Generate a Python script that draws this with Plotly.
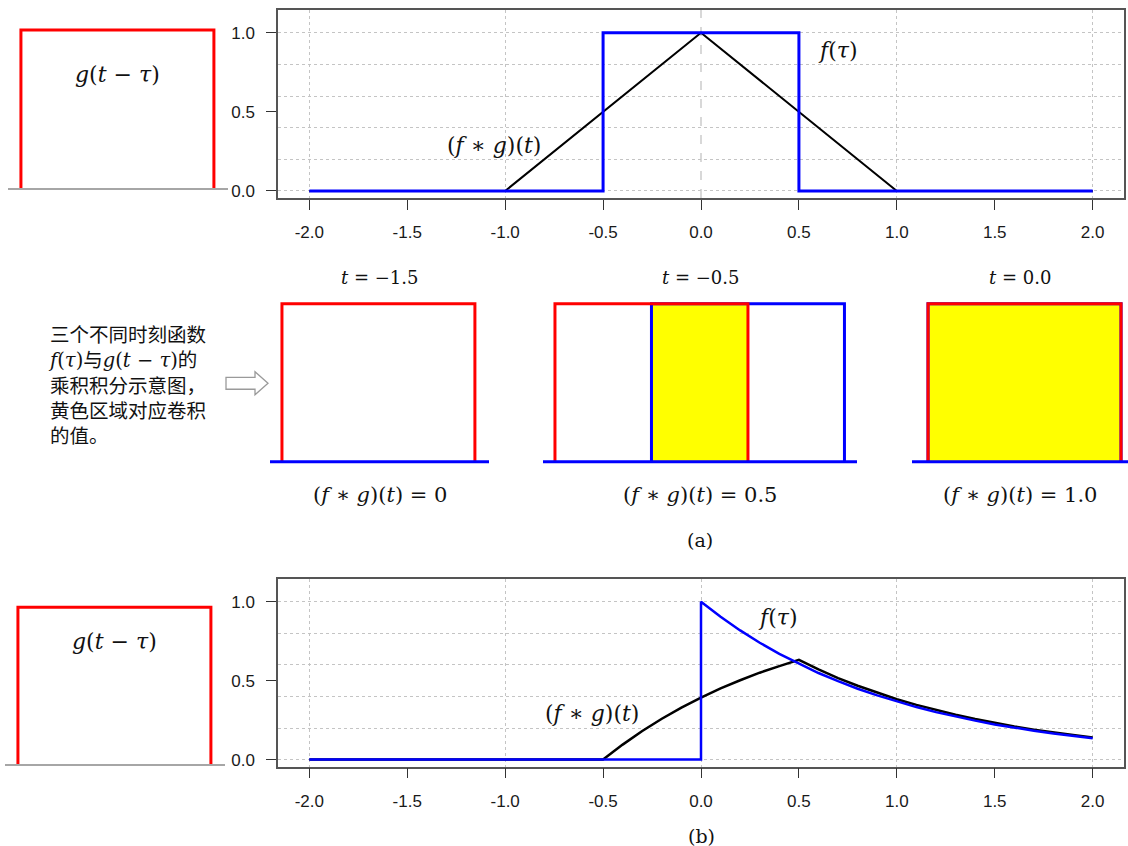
import plotly.graph_objects as go

# ---------------- data ----------------
# (a) rectangular pulse f(tau) and its convolution with the unit window g
rect_tau = [-2.0, -0.5, -0.5, 0.5, 0.5, 2.0]
rect_f = [0.0, 0.0, 1.0, 1.0, 0.0, 0.0]
tri_t = [-2.0, -1.0, 0.0, 1.0, 2.0]
tri_conv = [0.0, 0.0, 1.0, 0.0, 0.0]

# (b) one-sided decaying pulse f(tau) and its convolution with the unit window
exp_tau = [-2.0, 0.0, 0.0, 0.1, 0.2, 0.3, 0.4, 0.5, 0.6, 0.7, 0.8, 0.9, 1.0,
           1.1, 1.2, 1.3, 1.4, 1.5, 1.6, 1.7, 1.8, 1.9, 2.0]
exp_f = [0.0, 0.0, 1.00, 0.905, 0.819, 0.741, 0.670, 0.607, 0.549, 0.497, 0.449,
         0.407, 0.368, 0.333, 0.301, 0.273, 0.247, 0.223, 0.202, 0.183, 0.165,
         0.150, 0.135]
exp_t = [-2.0, -0.5, -0.4, -0.3, -0.2, -0.1, 0.0, 0.1, 0.2, 0.3, 0.4, 0.5, 0.6,
         0.7, 0.8, 0.9, 1.0, 1.1, 1.2, 1.3, 1.4, 1.5, 1.6, 1.7, 1.8, 1.9, 2.0]
exp_conv = [0.0, 0.0, 0.095, 0.181, 0.259, 0.330, 0.393, 0.451, 0.503, 0.551,
            0.593, 0.632, 0.572, 0.517, 0.468, 0.424, 0.383, 0.347, 0.314, 0.284,
            0.257, 0.233, 0.210, 0.190, 0.172, 0.156, 0.141]

# snapshots of the sliding window g(t - tau) over the pulse f(tau)
snap_t = [-1.5, -0.5, 0.0]
snap_conv = [0.0, 0.5, 1.0]
f_window = [-0.5, 0.5]
g_width = 1.0

x_ticks = [-2.0, -1.5, -1.0, -0.5, 0.0, 0.5, 1.0, 1.5, 2.0]
y_ticks = [0.0, 0.5, 1.0]
grid_x = [-2.0, -1.0, 0.0, 1.0, 2.0]
grid_y = [0.0, 0.2, 0.4, 0.6, 0.8, 1.0]

note_lines = [
    "三个不同时刻函数",
    "<span style='font-family:DejaVu Serif'><i>f</i>(<i>τ</i>)</span>与"
    "<span style='font-family:DejaVu Serif'><i>g</i>(<i>t</i> − <i>τ</i>)</span>的",
    "乘积积分示意图，",
    "黄色区域对应卷积",
    "的值。",
]

# ---------------- layout helpers ----------------
W, H = 1128, 846
H_PX = 843.5  # vertical pixel scale used for placing elements


def xdom(left, right):
    return [left / W, right / W]


def py(p):
    return 1 - p / H_PX


def ydom(top, bottom):
    return [py(bottom), py(top)]


BLUE = "#0000ff"
RED = "#ff0000"
YELLOW = "#ffff00"
MATH = "DejaVu Serif"
CJK = "Noto Sans CJK SC"
TICKFONT = dict(family="Liberation Sans", size=17, color="#1a1a1a")

fig = go.Figure()


def add_line(x, y, color, width, xa, ya, **kw):
    fig.add_trace(go.Scatter(x=x, y=y, mode="lines",
                             line=dict(color=color, width=width),
                             xaxis=xa, yaxis=ya, hoverinfo="skip",
                             showlegend=False, **kw))


# main plots (a) and (b)
add_line(tri_t, tri_conv, "black", 2, "x", "y")
add_line(rect_tau, rect_f, BLUE, 3, "x", "y")
add_line(exp_t, exp_conv, "black", 2.5, "x2", "y2")
add_line(exp_tau, exp_f, BLUE, 2.5, "x2", "y2")

# sliding window snapshots
for i, t in enumerate(snap_t):
    ax = str(3 + i)
    g_lo, g_hi = t - g_width / 2, t + g_width / 2
    w = snap_conv[i]
    if w > 0:
        lo = max(g_lo, f_window[0])
        fig.add_trace(go.Scatter(x=[lo, lo, lo + w, lo + w, lo], y=[0, 1, 1, 0, 0],
                                 mode="lines", fill="toself", fillcolor=YELLOW,
                                 line=dict(width=0), xaxis="x" + ax, yaxis="y" + ax,
                                 hoverinfo="skip", showlegend=False))
    add_line([f_window[0], f_window[0], f_window[1], f_window[1]], [0, 1, 1, 0],
             BLUE, 3, "x" + ax, "y" + ax)
    add_line([g_lo, g_lo, g_hi, g_hi], [0, 1, 1, 0], RED, 3, "x" + ax, "y" + ax)

# the window g(t - tau) drawn beside each main plot
for ax in ("6", "7"):
    add_line([-g_width / 2, -g_width / 2, g_width / 2, g_width / 2], [0, 1, 1, 0],
             RED, 3, "x" + ax, "y" + ax)


def main_axes(xd, yd, anchor_x, anchor_y, gx):
    xa = dict(domain=xd, anchor=anchor_y, range=[-2.16, 2.16],
              tickmode="array", tickvals=x_ticks,
              ticktext=[f"{v:.1f}" for v in x_ticks],
              ticks="outside", ticklen=10, tickwidth=1.2, tickcolor="#333",
              ticklabelstandoff=8, tickfont=TICKFONT,
              showline=True, mirror=True, linecolor="#555", linewidth=1.5,
              showgrid=False, zeroline=False, fixedrange=True,
              minor=dict(tickmode="array", tickvals=gx, ticks="inside",
                         ticklen=0, showgrid=True, gridcolor="#c4c4c4",
                         griddash="dot", gridwidth=1))
    ya = dict(domain=yd, anchor=anchor_x, range=[-0.044, 1.144],
              tickmode="array", tickvals=y_ticks,
              ticktext=[f"{v:.1f}" for v in y_ticks],
              ticks="outside", ticklen=10, tickwidth=1.2, tickcolor="#333",
              ticklabelstandoff=8, tickfont=TICKFONT,
              showline=True, mirror=True, linecolor="#555", linewidth=1.5,
              showgrid=False, zeroline=False, fixedrange=True,
              minor=dict(tickmode="array", tickvals=grid_y, ticks="inside",
                         ticklen=0, showgrid=True, gridcolor="#c4c4c4",
                         griddash="dot", gridwidth=1))
    return xa, ya


# in (a) the line through tau = 0 is dashed instead of dotted
xa1, ya1 = main_axes(xdom(278, 1124), ydom(10, 198), "x", "y",
                     [g for g in grid_x if g != 0])
xa2, ya2 = main_axes(xdom(278, 1124), ydom(579.5, 767), "x2", "y2", grid_x)


def hidden(domain, rng, anchor):
    return dict(domain=domain, range=rng, anchor=anchor, visible=False,
                fixedrange=True, showgrid=False, zeroline=False)


panel_y = ydom(296.1, 469.9)
layout_axes = dict(
    xaxis=xa1, yaxis=ya1, xaxis2=xa2, yaxis2=ya2,
    xaxis3=hidden(xdom(270, 489), [-2.062, -0.927], "y3"),
    yaxis3=hidden(panel_y, [-0.05, 1.05], "x3"),
    xaxis4=hidden(xdom(543, 857), [-1.062, 0.565], "y4"),
    yaxis4=hidden(panel_y, [-0.05, 1.05], "x4"),
    xaxis5=hidden(xdom(912, 1128), [-0.583, 0.536], "y5"),
    yaxis5=hidden(panel_y, [-0.05, 1.05], "x5"),
    xaxis6=hidden(xdom(8, 228), [-0.567, 0.573], "y6"),
    yaxis6=hidden(ydom(22.05, 196.95), [-0.05, 1.05], "x6"),
    xaxis7=hidden(xdom(5, 225), [-0.567, 0.573], "y7"),
    yaxis7=hidden(ydom(599.6, 773.4), [-0.05, 1.05], "x7"),
)

shapes = [
    # dashed line through tau = 0 in (a)
    dict(type="line", xref="x", yref="y", x0=0, x1=0, y0=-0.044, y1=1.144,
         line=dict(color="#c4c4c4", width=1.3, dash="dash"), layer="below"),
]
for ax in ("6", "7"):
    shapes.append(dict(type="line", xref="x" + ax + " domain", yref="y" + ax,
                       x0=0, x1=1, y0=0, y1=0, line=dict(color="#a6a6a6", width=2)))
for ax in ("3", "4", "5"):
    shapes.append(dict(type="line", xref="x" + ax + " domain", yref="y" + ax,
                       x0=0, x1=1, y0=0, y1=0, line=dict(color=BLUE, width=3)))

# hollow arrow pointing at the snapshots
ax0, ax1, ax2 = 226 / W, 255 / W, 268 / W
ay = [py(372), py(377.5), py(383.5), py(389.5), py(395)]
arrow = (f"M {ax0},{ay[1]} L {ax1},{ay[1]} L {ax1},{ay[0]} L {ax2},{ay[2]} "
         f"L {ax1},{ay[4]} L {ax1},{ay[3]} L {ax0},{ay[3]} Z")
shapes.append(dict(type="path", xref="paper", yref="paper", path=arrow,
                   fillcolor="white", line=dict(color="#9a9a9a", width=1.3)))

ann = []


def text(x, y, s, size, xref="paper", yref="paper", family=MATH, **kw):
    opts = dict(xanchor="center", yanchor="middle")
    opts.update(kw)
    ann.append(dict(x=x, y=y, xref=xref, yref=yref, text=s, showarrow=False,
                    font=dict(family=family, size=size, color="#111"), **opts))


conv_label = "(<i>f</i> ∗ <i>g</i>)(<i>t</i>)"
text(0.70, 0.89, "<i>f</i>(<i>τ</i>)", 22, "x", "y")
text(-1.056, 0.29, conv_label, 22, "x", "y")
text(0.393, 0.90, "<i>f</i>(<i>τ</i>)", 22, "x2", "y2")
text(-0.556, 0.29, conv_label, 22, "x2", "y2")
text(0, 0.72, "<i>g</i>(<i>t</i> − <i>τ</i>)", 22, "x6", "y6")
text(0, 0.78, "<i>g</i>(<i>t</i> − <i>τ</i>)", 22, "x7", "y7")

for i, t in enumerate(snap_t):
    ax = str(3 + i)
    t_str = f"{t:.1f}".replace("-", "−")
    text(0.5, py(278), f"<i>t</i> = {t_str}", 18, "x" + ax + " domain", "paper")
    v = snap_conv[i]
    v_str = "0" if v == 0 else f"{v:.1f}"
    text(0.5, py(495), f"{conv_label} = {v_str}", 21, "x" + ax + " domain", "paper")

text(46 / W, py(384), "<br>".join(note_lines), 19.5, family=CJK,
     xanchor="left", align="left")

text(700 / W, py(540), "(a)", 19)
text(701 / W, py(836), "(b)", 19)

fig.update_layout(
    width=W, height=H, margin=dict(l=0, r=0, t=0, b=0),
    paper_bgcolor="white", plot_bgcolor="rgba(0,0,0,0)",
    showlegend=False, shapes=shapes, annotations=ann, **layout_axes,
)

fig.write_html("out.html", config={"displayModeBar": False})
